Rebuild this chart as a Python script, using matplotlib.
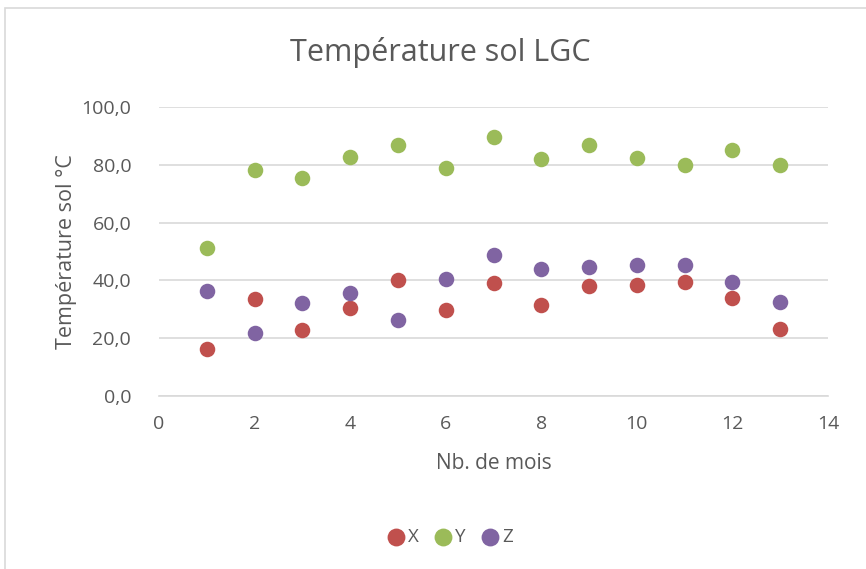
import matplotlib
matplotlib.use("Agg")
import matplotlib.pyplot as plt
from matplotlib.patches import Rectangle
from matplotlib.ticker import FuncFormatter

months = [1, 2, 3, 4, 5, 6, 7, 8, 9, 10, 11, 12, 13]
x_vals = [16.3, 33.4, 22.8, 30.4, 40.2, 29.7, 39.2, 31.5, 37.9, 38.3, 39.3, 33.8, 23.3]
y_vals = [51.2, 78.3, 75.3, 82.8, 86.9, 78.8, 89.5, 82.0, 86.7, 82.3, 80.0, 85.0, 80.0]
z_vals = [36.2, 21.9, 32.3, 35.6, 26.4, 40.4, 48.8, 43.8, 44.6, 45.3, 45.2, 39.6, 32.4]
series_names = ["X", "Y", "Z"]
colors = ["#C0504D", "#9BBB59", "#8064A2"]

plt.rcParams['font.family'] = ['Open Sans', 'DejaVu Sans']
txt = "#595959"

fig = plt.figure(figsize=(8.66, 5.69), dpi=100)
fig.patches.append(Rectangle((5/866, -0.01), 1.0, 1 - 8/569 + 0.01, transform=fig.transFigure,
                             fill=False, edgecolor="#D9D9D9", linewidth=1.2))
ax = fig.add_axes([159/866, 1 - 396/569, (828-159)/866, (396-107)/569])

for vals, name, c in zip([x_vals, y_vals, z_vals], series_names, colors):
    ax.scatter(months, vals, s=125, color=c, label=name, zorder=3, linewidths=0)

ax.set_xlim(0, 14)
ax.set_ylim(0, 100)
ax.set_xticks(range(0, 15, 2))
ax.set_yticks(range(0, 101, 20))
ax.yaxis.set_major_formatter(FuncFormatter(lambda v, p: f"{v:.1f}".replace(".", ",")))
ax.grid(axis='y', color="#D9D9D9", linewidth=1.2)
ax.set_axisbelow(True)
for s in ["top", "right", "left"]:
    ax.spines[s].set_visible(False)
ax.spines["bottom"].set_color("#D9D9D9")
ax.spines["bottom"].set_linewidth(1.2)
ax.tick_params(length=0, colors=txt, labelsize=14)
ax.tick_params(axis='y', pad=20)
ax.tick_params(axis='x', pad=14)

fig.text(440/866, 1 - 52/569, "Température sol LGC", fontsize=22, color=txt,
         ha="center", va="center")
ax.set_xlabel("Nb. de mois", fontsize=15, color=txt, labelpad=14)
ax.set_ylabel("Température sol °C", fontsize=15.5, color=txt, labelpad=3)

leg = fig.legend(loc="center", bbox_to_anchor=(445/866, 1 - 537/569), ncol=3, frameon=False,
                 fontsize=13.5, handletextpad=-0.35, columnspacing=0.3, markerscale=1.15)
for t in leg.get_texts():
    t.set_color(txt)

fig.savefig("out.png", dpi=100)
